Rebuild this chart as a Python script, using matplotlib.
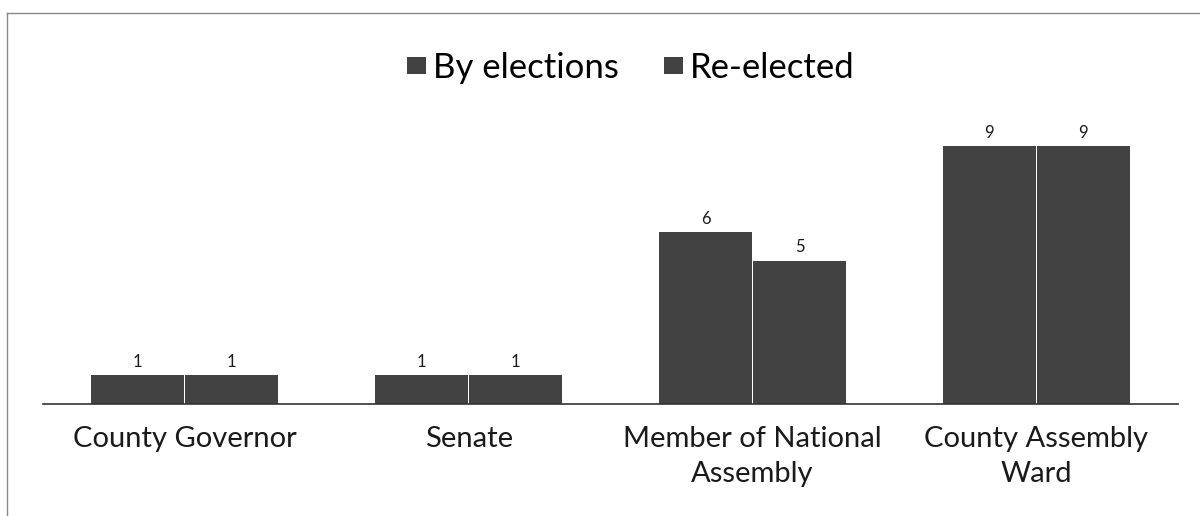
import numpy as np
import matplotlib.pyplot as plt
from matplotlib.lines import Line2D

categories = ["County Governor", "Senate", "Member of National\nAssembly", "County Assembly\nWard"]
by_elections = [1, 1, 6, 9]
re_elected = [1, 1, 5, 9]
series_names = ["By elections", "Re-elected"]

plt.rcParams['font.family'] = ['Lato', 'DejaVu Sans']

fig = plt.figure(figsize=(12, 5.16), dpi=100)
ax = fig.add_axes([0.0358, 0.217, 0.946, 0.61])

x = np.arange(len(categories))
w = 0.331
bar_color = '#424242'
b1 = ax.bar(x - w / 2, by_elections, width=w - 0.004, color=bar_color, label=series_names[0])
b2 = ax.bar(x + w / 2, re_elected, width=w - 0.004, color=bar_color, label=series_names[1])

for bars in (b1, b2):
    for rect in bars:
        ax.annotate(f"{int(rect.get_height())}", (rect.get_x() + rect.get_width() / 2, rect.get_height()),
                    xytext=(0, 4), textcoords='offset points', ha='center', va='bottom',
                    fontsize=12, color='#1a1a1a')

ax.set_xlim(-0.5, len(categories) - 0.5)
ax.set_ylim(0, 11)
ax.set_xticks(x)
ax.set_xticklabels(categories, fontsize=21, color='#1a1a1a', linespacing=1.4)
ax.tick_params(axis='x', length=0, pad=16)
ax.set_yticks([])
for s in ['top', 'right', 'left']:
    ax.spines[s].set_visible(False)
ax.spines['bottom'].set_color('#333333')
ax.spines['bottom'].set_linewidth(1.2)

fig.legend(handles=[b1, b2], labels=series_names, loc='center', bbox_to_anchor=(0.526, 0.868),
           ncol=2, frameon=False, fontsize=25, handlelength=0.55, handleheight=0.4,
           handletextpad=0.2, columnspacing=1.3)

# partial scan border
fig.add_artist(Line2D([0.006, 1.0], [0.975, 0.975], color='#888888', lw=1.0))
fig.add_artist(Line2D([0.006, 0.006], [0.0, 0.975], color='#888888', lw=1.0))

fig.savefig("out.png", dpi=100)
